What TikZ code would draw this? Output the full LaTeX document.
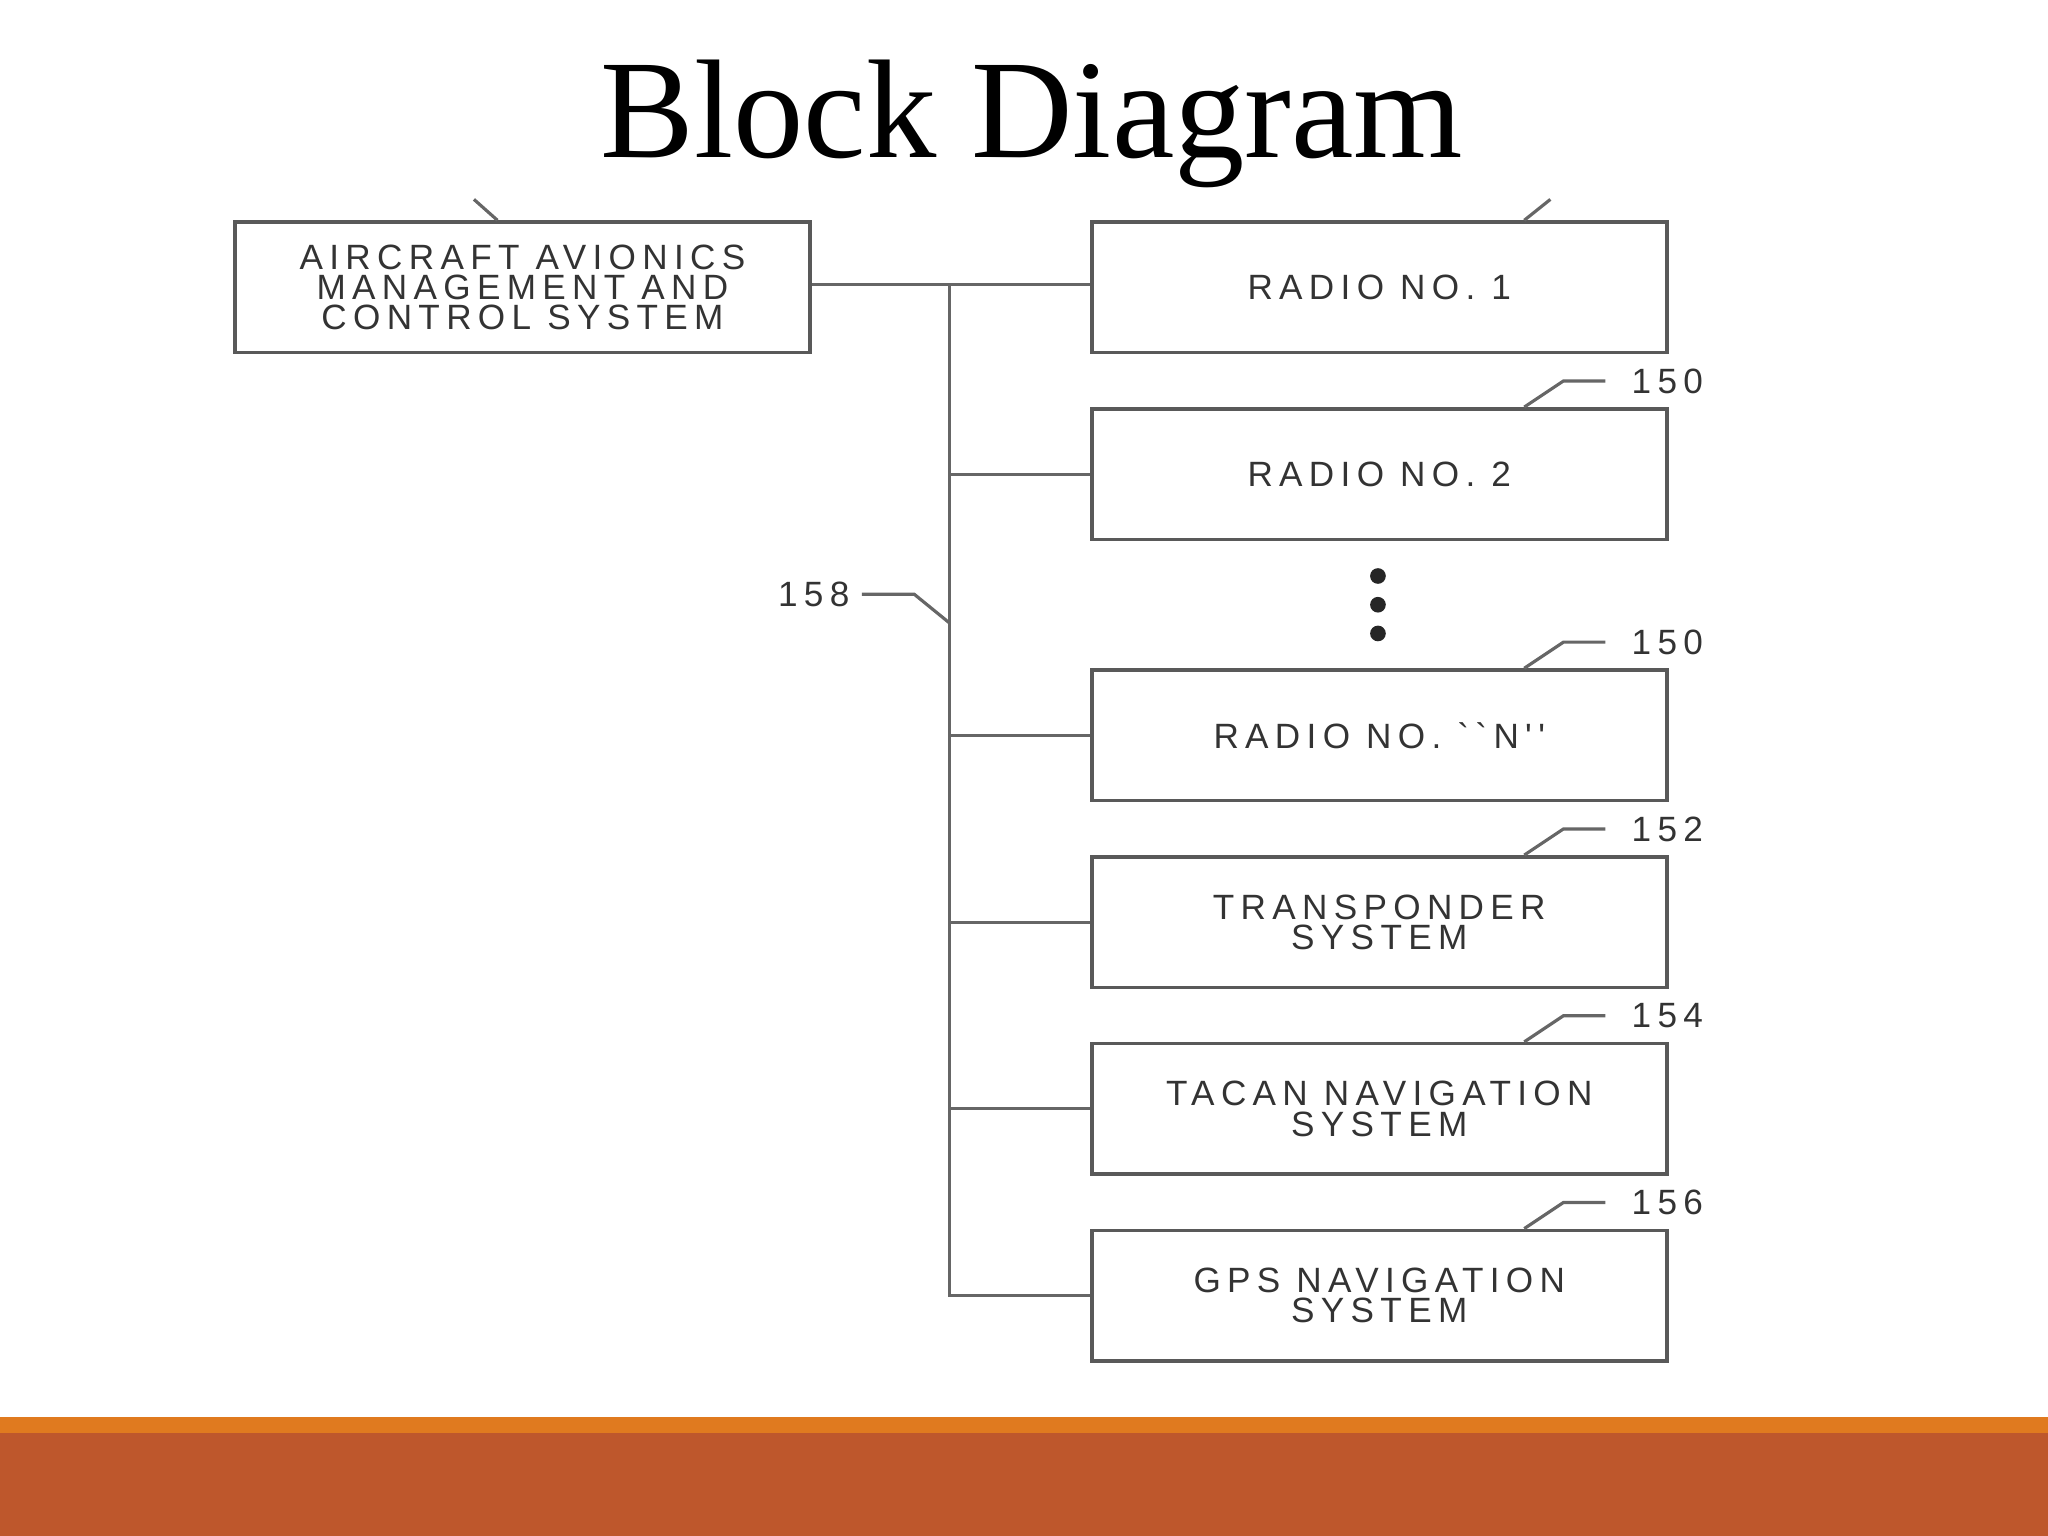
\documentclass[tikz,border=0pt]{standalone}
\usepackage{fontspec}
\setmainfont{Liberation Serif}
\newfontfamily\boxfont{Liberation Sans}[LetterSpace=18]
\usetikzlibrary{positioning}
\definecolor{barorange}{HTML}{E07A1F}
\definecolor{barrust}{HTML}{BE572C}
\tikzset{
  blk/.style={draw=black!65, line width=1pt, minimum width=5.75cm, minimum height=1.306cm,
    align=center, font=\boxfont\fontsize{10}{8.6}\selectfont, text=black!80},
  bus/.style={draw=black!60, line width=0.9pt},
  num/.style={font=\boxfont\fontsize{10}{10}\selectfont, text=black!80}
}
\begin{document}
\begin{tikzpicture}[x=0.01306cm, y=-0.01306cm]
    \useasboundingbox (0,0) rectangle (1568,1176);
    \fill[barorange] (0,1085) rectangle (1568,1098);
    \fill[barrust] (0,1097) rectangle (1568,1176);
    \node[font=\fontsize{40}{40}\selectfont] (title) at (790,95) {Block Diagram};

    % blocks
    \node[blk] (aacs) at (400,220) {AIRCRAFT AVIONICS\\MANAGEMENT AND\\CONTROL SYSTEM};
    \node[blk] (r1) at (1056,220) {RADIO NO. 1};
    \node[blk] (r2) at (1056,363) {RADIO NO. 2};
    \node[blk] (rn) at (1056,563) {RADIO NO. ``N''};
    \node[blk] (tr) at (1056,706) {TRANSPONDER\\SYSTEM};
    \node[blk] (tc) at (1056,849) {TACAN NAVIGATION\\SYSTEM};
    \node[blk] (gps) at (1056,992) {GPS NAVIGATION\\SYSTEM};

    % bus
    \coordinate (btop) at (727,218);
    \coordinate (bbot) at (727,993);
    \draw[bus] (aacs.east |- btop) -- (r1.west |- btop);
    \draw[bus] (btop) -- (bbot);
    \foreach \n in {r2,rn,tr,tc,gps}
        \draw[bus] (727,0 |- \n.west) -- (\n.west);

    % dots
    \foreach \y in {441,463,485}
        \fill[black!85] (1055,\y) circle (6);

    % reference numbers
    \foreach \n/\t in {r2/150,rn/150,tr/152,tc/154,gps/156} {
        \draw[bus] ([xshift=1.45cm]\n.north) -- ++(30,-20) -- ++(32,0) coordinate (c\n);
        \node[num, anchor=west] at ([xshift=4pt]c\n) {\t};
    }
    \draw[bus] ([xshift=1.45cm]r1.north) -- ++(20,-16);
    \draw[bus] ([xshift=-0.25cm]aacs.north) -- ++(-18,-16);
    \node[num] (n158) at (623,455) {158};
    \draw[bus] (n158.east) -- (700,455) -- (727,477);
\end{tikzpicture}
\end{document}
